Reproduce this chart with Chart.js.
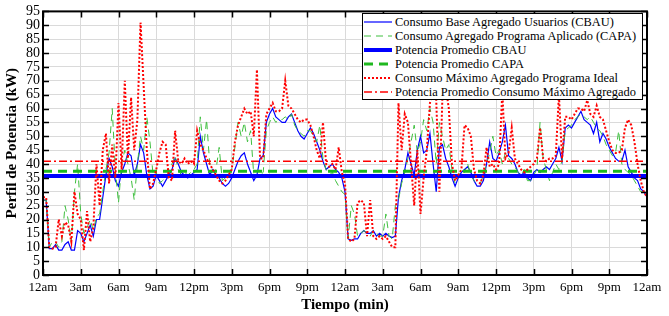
<!DOCTYPE html>
<html>
<head>
<meta charset="utf-8">
<script src="https://cdn.jsdelivr.net/npm/chart.js@4/dist/chart.umd.min.js"></script>
<style>
  html, body { margin: 0; padding: 0; background: #fff; }
  #wrap { position: relative; width: 669px; height: 316px; }
  #legend {
    position: absolute; left: 362px; top: 13px; width: 279px; height: 84px;
    border: 1px solid #000; background: #fff; padding-top: 1px;
    font-family: 'Liberation Serif', 'Times New Roman', serif; font-size: 12.4px; color: #000;
  }
  #legend .row { display: flex; align-items: center; height: 14px; line-height: 14px; white-space: nowrap; }
  #legend svg { margin-left: 1px; margin-right: 3px; flex: none; }
</style>
</head>
<body>
<div id="wrap">
  <canvas id="c" width="669" height="316"></canvas>
  <div id="legend"></div>
</div>
<script>
// ---- tick labels & names ----
const xTickLabels = ['12am','3am','6am','9am','12pm','3pm','6pm','9pm','12am','3am','6am','9am','12pm','3pm','6pm','9pm','12am'];
const seriesNames = [
  'Consumo Base Agregado Usuarios (CBAU)',
  'Consumo Agregado Programa Aplicado (CAPA)',
  'Potencia Promedio CBAU',
  'Potencia Promedio CAPA',
  'Consumo Máximo Agregado Programa Ideal',
  'Potencia Promedio Consumo Máximo Agregado'
];
const stepHours = 0.25; // one sample every 15 minutes, 48 hours

// ---- series values (kW) ----
const cbau = [
  27,27,9.5,9.5,11,9,9,11,12,9,9,16,
  15,12,15,18,14,20,20,28,36,42,39,34,
  32,37,40,44,43,36,40,47,44,36,31,32,
  36,34,32,34,36,38,42,40,37,36,35,36,
  37,38,50,44,40,36,38,36,35,33,32,33,
  35,38,41,43,44,40,37,34,36,42,43,55,
  58,60,57,56,55,55,57,58,55,52,50,49,
  51,53,51,48,45,41,38,39,40,38,37,35,
  30,13,12.5,13,13,15,16,15,15,16,14,15,
  14,15,14,13.5,14,28,34,38,44,40,36,45,
  50,44,45,51,40,30,46,47,42,39,35,32,
  35,37,38,39,37,34,32,32,34,40,48,42,
  41,44,48,54,43,42,40,37,36,37,35,34,
  37,38,37,38,39,38,40,42,46,41,53,54,
  53,55,57,59,56,55,54,51,55,48,51,49,
  46,44,42,41,41,45,39,37,35,34,31,30,28
];
const capa = [
  27,27,10,12,12,10,12,25,20,12,30,40,
  22,15,17,20,16,21,22,30,38,44,60,38,
  26,40,45,40,35,27,40,50,45,57,48,36,
  37,33,34,35,37,40,43,38,36,37,36,37,
  38,40,57,45,56,40,37,38,46,34,35,36,
  38,46,55,50,55,48,52,36,35,36,37,52,
  55,57,55,56,56,57,56,58,54,52,51,50,
  52,52,50,48,54,42,38,36,37,34,32,30,
  29,13,25,22,14,15,16,15,14,16,15,14,
  14,22,14,13,25,27,33,37,42,48,54,44,
  48,56,52,60,55,40,55,50,45,47,38,33,
  36,38,37,40,36,34,33,33,36,40,44,50,
  43,45,40,44,42,40,39,37,36,38,34,34,
  36,38,55,42,38,34,37,40,38,41,52,53,
  54,56,57,58,57,56,57,55,53,52,50,47,
  45,43,44,52,40,38,37,36,34,32,30,30,30
];
const cmax = [
  28,28,10,9.5,10,20,14,19,18,12,30,22,
  20,9,23,12,17,40,25,45,51,33,47,35,
  62,38,70,42,64,45,56,91,68,45,31,33,
  38,44,48,47,35,34,52,41,40,42,40,41,
  40,52,47,45,42,40,38,36,34,33,34,36,
  38,48,54,57,60,58,59,50,74,42,42,58,
  60,62,59,59,60,70,61,60,58,56,55,56,
  56,54,50,45,42,55,40,39,40,38,46,37,
  33,13,12,13,26,27,26,14,27,14,13,14,
  13,14,12,10,10,62,45,58,55,40,25,45,
  22,35,45,62,66,63,30,65,68,60,40,34,
  36,38,54,53,50,38,34,33,36,46,39,40,
  38,40,66,42,44,53,42,40,38,37,38,39,
  40,42,53,42,41,42,42,43,65,42,57,57,
  56,58,60,60,59,63,58,57,61,57,56,52,
  48,45,44,44,45,53,56,54,48,40,34,30,28
];
const avgCbau = 35.7;
const avgCapa = 37.4;
const avgCmax = 41.0;

// ---- build chart data ----
const timeHours = cbau.map((_, i) => i * stepHours);
const toPts = arr => arr.map((v, i) => ({ x: timeHours[i], y: v }));
const flat = v => [{ x: timeHours[0], y: v }, { x: timeHours[timeHours.length - 1], y: v }];

const styles = [
  { color: '#0000ff', width: 1.2, dash: [] },
  { color: '#3fbf3f', width: 1, dash: [7, 5] },
  { color: '#0000ff', width: 4, dash: [] },
  { color: '#1fb81f', width: 3, dash: [9, 6] },
  { color: '#ff0000', width: 2, dash: [2, 2] },
  { color: '#ff0000', width: 1.5, dash: [8, 3, 2, 3] }
];
const seriesData = [toPts(cbau), toPts(capa), flat(avgCbau), flat(avgCapa), toPts(cmax), flat(avgCmax)];

const datasets = seriesData.map((d, i) => ({
  label: seriesNames[i],
  data: d,
  borderColor: styles[i].color,
  backgroundColor: styles[i].color,
  borderWidth: styles[i].width,
  borderDash: styles[i].dash,
  pointRadius: 0,
  tension: 0,
  fill: false,
  order: seriesData.length - i
}));

const SERIF = "'Liberation Serif', 'Times New Roman', serif";
Chart.defaults.font.family = SERIF;
Chart.defaults.color = '#000';

const frame = {
  id: 'frame',
  afterDraw(chart) {
    const { ctx, chartArea: { left, right, top, bottom }, scales: { x, y } } = chart;
    ctx.save();
    ctx.strokeStyle = '#000';
    ctx.lineWidth = 1.5;
    ctx.beginPath();
    x.ticks.forEach(t => {
      const px = Math.round(x.getPixelForValue(t.value)) + 0.5;
      ctx.moveTo(px, bottom); ctx.lineTo(px, bottom - 6);
      ctx.moveTo(px, top); ctx.lineTo(px, top + 6);
    });
    y.ticks.forEach(t => {
      const py = Math.round(y.getPixelForValue(t.value)) + 0.5;
      ctx.moveTo(left, py); ctx.lineTo(left + 6, py);
      ctx.moveTo(right, py); ctx.lineTo(right - 6, py);
    });
    ctx.stroke();
    ctx.lineWidth = 2;
    ctx.strokeRect(left, top, right - left, bottom - top);
    ctx.restore();
  }
};

const chart = new Chart(document.getElementById('c'), {
  type: 'line',
  data: { datasets },
  options: {
    responsive: false,
    animation: false,
    devicePixelRatio: 1,
    layout: { padding: { left: 0, right: 22, top: 11, bottom: 0 } },
    plugins: { legend: { display: false }, tooltip: { enabled: false } },
    scales: {
      x: {
        type: 'linear', min: 0, max: 48,
        afterFit(s) { s.height = 41; },
        ticks: {
          stepSize: 3, autoSkip: false, maxRotation: 0, padding: 5,
          font: { size: 13 },
          callback: v => xTickLabels[Math.round(v / 3)]
        },
        grid: { color: '#dadada', lineWidth: 1, drawTicks: false },
        border: { display: false },
        title: { display: true, text: 'Tiempo (min)', font: { size: 15, weight: 'bold' }, padding: { top: 0, bottom: 2 } }
      },
      y: {
        min: 0, max: 95,
        afterFit(s) { s.width = 43; },
        ticks: { stepSize: 5, autoSkip: false, padding: 3, font: { size: 14 } },
        grid: { color: '#dadada', lineWidth: 1, drawTicks: false },
        border: { display: false },
        title: { display: true, text: 'Perfil de Potencia (kW)', font: { size: 15, weight: 'bold' }, padding: { top: 3, bottom: 0 } }
      }
    }
  },
  plugins: [frame]
});

// ---- HTML legend built from the datasets ----
const legend = document.getElementById('legend');
chart.data.datasets.forEach(ds => {
  const row = document.createElement('div');
  row.className = 'row';
  const ns = 'http://www.w3.org/2000/svg';
  const svg = document.createElementNS(ns, 'svg');
  svg.setAttribute('width', '28'); svg.setAttribute('height', '10');
  const ln = document.createElementNS(ns, 'line');
  ln.setAttribute('x1', '0'); ln.setAttribute('x2', '28');
  ln.setAttribute('y1', '5'); ln.setAttribute('y2', '5');
  ln.setAttribute('stroke', ds.borderColor);
  ln.setAttribute('stroke-width', ds.borderWidth);
  if (ds.borderDash.length) ln.setAttribute('stroke-dasharray', ds.borderDash.join(' '));
  svg.appendChild(ln);
  const span = document.createElement('span');
  span.textContent = ds.label;
  row.appendChild(svg); row.appendChild(span);
  legend.appendChild(row);
});
</script>
</body>
</html>
